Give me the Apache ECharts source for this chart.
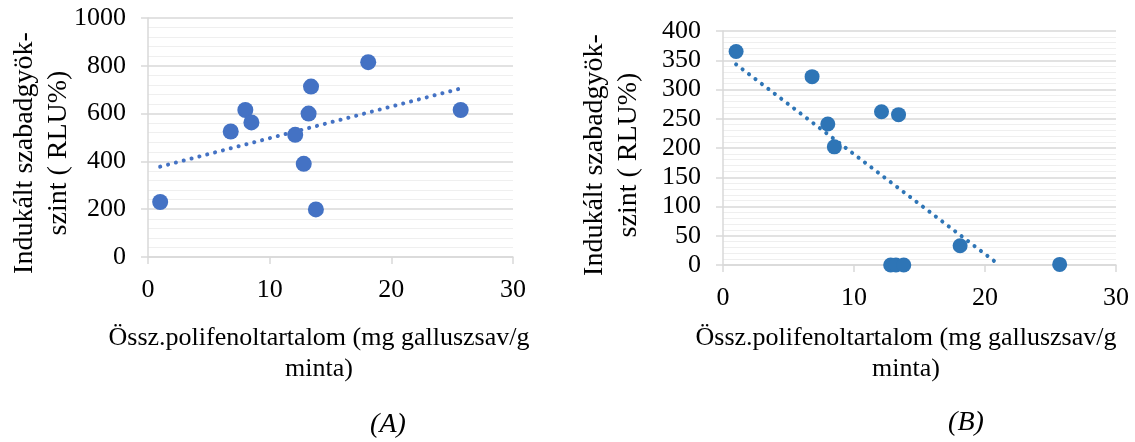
<!DOCTYPE html>
<html>
<head>
<meta charset="utf-8">
<script src="https://cdn.jsdelivr.net/npm/echarts@6/dist/echarts.min.js"></script>
<style>
  html, body { margin: 0; padding: 0; background: #fff; }
  #chart { width: 1135px; height: 442px; }
</style>
</head>
<body>
<div id="chart"></div>
<script>
// total polyphenol content (mg gallic acid / g sample)
const polyphenol = [1.0, 6.8, 8.0, 8.5, 12.1, 12.8, 13.2, 13.4, 13.8, 18.1, 25.7];
// induced free radical level (RLU%)
const rluA = [230, 525, 615, 563, 511, 390, 600, 713, 199, 815, 615];
const rluB = [365, 322, 241, 202, 262, 0, 0, 257, 0, 33, 1];
// linear trendline ends
const trendA = [[1.0, 378], [25.7, 705]];
const trendB = [[1.0, 343], [21.1, 0]];

const xTicks = [0, 10, 20, 30];
const yTicksA = [0, 200, 400, 600, 800, 1000];
const yTicksB = [0, 50, 100, 150, 200, 250, 300, 350, 400];

const serif = '"Liberation Serif", "Times New Roman", serif';
const gridGray = '#d9d9d9';

const chart = echarts.init(document.getElementById('chart'));

function xAxisFor(gridIndex) {
  return {
    type: 'value', gridIndex: gridIndex,
    min: xTicks[0], max: xTicks[xTicks.length - 1], interval: 10,
    axisLine: { show: true, lineStyle: { color: gridGray, width: 1.5 } },
    axisTick: { show: true, length: 7, lineStyle: { color: gridGray, width: 1.5 } },
    splitLine: { show: false },
    axisLabel: { color: '#000', fontFamily: serif, fontSize: 26, margin: 20 }
  };
}

function yAxisFor(gridIndex, ticks, step) {
  return {
    type: 'value', gridIndex: gridIndex,
    min: ticks[0], max: ticks[ticks.length - 1], interval: step,
    axisLine: { show: true, lineStyle: { color: gridGray, width: 1.5 } },
    axisTick: { show: true, length: 7, lineStyle: { color: gridGray, width: 1.5 } },
    splitLine: { show: true, lineStyle: { color: gridGray, width: 1.5 } },
    minorTick: { show: false, splitNumber: 5 },
    minorSplitLine: { show: true, lineStyle: { color: '#efefef', width: 1 } },
    axisLabel: {
      color: '#000', fontFamily: serif, fontSize: 26, margin: 22,
      formatter: v => String(v)
    }
  };
}

function pairs(xs, ys) {
  return xs.map((x, i) => [x, ys[i]]);
}

const option = {
  animation: false,
  backgroundColor: '#fff',
  grid: [
    { left: 148, top: 18, width: 365, height: 239 },
    { left: 723, top: 31, width: 393, height: 234 }
  ],
  xAxis: [xAxisFor(0), xAxisFor(1)],
  yAxis: [yAxisFor(0, yTicksA, 200), yAxisFor(1, yTicksB, 50)],
  series: [
    {
      type: 'line', xAxisIndex: 0, yAxisIndex: 0, data: trendA,
      symbol: 'none', z: 2,
      lineStyle: { color: '#4472C4', width: 4, type: [0.1, 8], cap: 'round' }
    },
    {
      type: 'scatter', xAxisIndex: 0, yAxisIndex: 0,
      data: pairs(polyphenol, rluA), symbolSize: 16, z: 3,
      itemStyle: { color: '#4472C4', opacity: 1 }
    },
    {
      type: 'line', xAxisIndex: 1, yAxisIndex: 1, data: trendB,
      symbol: 'none', z: 2,
      lineStyle: { color: '#2E75B6', width: 4, type: [0.1, 8], cap: 'round' }
    },
    {
      type: 'scatter', xAxisIndex: 1, yAxisIndex: 1,
      data: pairs(polyphenol, rluB), symbolSize: 15, z: 3,
      itemStyle: { color: '#2E75B6', opacity: 1 }
    }
  ],
  graphic: [
    {
      type: 'text', x: 42, y: 153, rotation: Math.PI / 2,
      style: {
        text: 'Indukált szabadgyök-\nszint ( RLU%)', fill: '#000',
        fontFamily: serif, fontSize: 28, lineHeight: 34,
        align: 'center', verticalAlign: 'middle'
      }
    },
    {
      type: 'text', x: 612, y: 155, rotation: Math.PI / 2,
      style: {
        text: 'Indukált szabadgyök-\nszint ( RLU%)', fill: '#000',
        fontFamily: serif, fontSize: 28, lineHeight: 34,
        align: 'center', verticalAlign: 'middle'
      }
    },
    {
      type: 'text', x: 319, y: 354,
      style: {
        text: 'Össz.polifenoltartalom (mg galluszsav/g\nminta)', fill: '#000',
        fontFamily: serif, fontSize: 26, lineHeight: 31,
        align: 'center', verticalAlign: 'middle'
      }
    },
    {
      type: 'text', x: 906, y: 354,
      style: {
        text: 'Össz.polifenoltartalom (mg galluszsav/g\nminta)', fill: '#000',
        fontFamily: serif, fontSize: 26, lineHeight: 31,
        align: 'center', verticalAlign: 'middle'
      }
    },
    {
      type: 'text', x: 388, y: 425,
      style: {
        text: '(A)', fill: '#000', fontFamily: serif, fontSize: 28, fontStyle: 'italic',
        align: 'center', verticalAlign: 'middle'
      }
    },
    {
      type: 'text', x: 966, y: 423,
      style: {
        text: '(B)', fill: '#000', fontFamily: serif, fontSize: 28, fontStyle: 'italic',
        align: 'center', verticalAlign: 'middle'
      }
    }
  ]
};

chart.setOption(option);
</script>
</body>
</html>
